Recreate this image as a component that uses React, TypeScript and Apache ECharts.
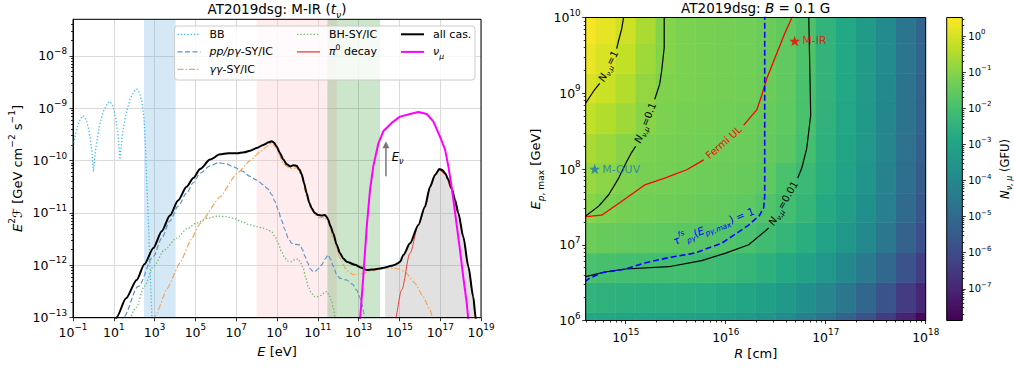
import React, { useEffect, useRef } from 'react';
import * as echarts from 'echarts';

const FONT = 'DejaVu Sans';

// ---------------- Left panel: AT2019dsg M-IR (t_nu) ----------------
// points: [log10(E / eV), log10(E^2 F / (GeV cm^-2 s^-1))]
const bbCurve = [
  [-1.0, -9.73], [-0.85, -9.45], [-0.7, -9.25], [-0.5, -9.14], [-0.35, -9.22], [-0.2, -9.45], [-0.08, -9.8], [0.0, -10.21],
  [0.12, -9.75], [0.3, -9.32], [0.5, -9.05], [0.7, -8.9], [0.81, -8.87], [0.95, -8.95], [1.1, -9.2], [1.22, -9.55], [1.3, -9.98],
  [1.42, -9.5], [1.6, -9.1], [1.8, -8.82], [2.0, -8.68], [2.12, -8.63], [2.25, -8.7], [2.38, -8.88], [2.48, -9.2], [2.55, -9.7],
  [2.61, -10.37], [2.68, -11.0], [2.74, -11.64], [2.8, -12.3], [2.86, -12.9], [2.9, -13.3],
];
const ppCurve = [
  [1.4, -13.1], [1.47, -12.99], [2.2, -12.4], [2.94, -11.83], [3.35, -11.48], [3.75, -11.15], [4.15, -10.87], [4.57, -10.62],
  [4.9, -10.42], [5.23, -10.24], [5.72, -10.1], [6.12, -10.04], [6.5, -10.06], [6.86, -10.12], [7.3, -10.2], [7.68, -10.3],
  [8.0, -10.37], [8.33, -10.46], [8.55, -10.54], [8.74, -10.65], [8.9, -10.78], [9.06, -10.94], [9.22, -11.14], [9.39, -11.32],
  [9.55, -11.48], [9.72, -11.58], [9.9, -11.6], [10.13, -11.61], [10.25, -11.7], [10.37, -11.83], [10.5, -11.95], [10.62, -12.06],
  [10.74, -12.11], [10.86, -12.12], [11.0, -12.07], [11.19, -11.99], [11.35, -11.88], [11.51, -11.8], [11.62, -11.88],
  [11.76, -12.02], [11.92, -12.17], [12.09, -12.25], [12.42, -12.28], [12.7, -12.36], [12.9, -12.47], [13.05, -12.6],
  [13.15, -12.72], [13.25, -12.9], [13.31, -13.04], [13.4, -13.25],
];
const ggCurve = [
  [2.95, -13.05], [3.1, -12.92], [3.6, -12.45], [4.25, -11.95], [4.8, -11.5], [5.23, -11.2], [6.21, -10.69],
  [7.02, -10.25], [7.68, -10.0], [8.17, -9.83], [8.5, -9.73], [8.74, -9.67], [8.98, -9.76], [9.31, -10.06], [9.64, -10.15],
  [9.96, -10.14], [10.21, -10.29], [10.45, -10.67], [10.7, -10.95], [11.02, -11.09], [11.35, -11.09], [11.51, -11.17],
  [11.76, -11.49], [12.09, -11.87], [12.42, -12.1], [12.74, -12.18], [13.15, -12.16], [13.72, -12.1], [14.37, -12.04],
  [14.86, -12.06], [15.27, -12.12], [15.76, -12.34], [16.17, -12.6], [16.5, -12.85], [16.66, -13.04], [16.75, -13.2],
];
const bhCurve = [
  [1.7, -13.15], [2.1, -12.8], [2.5, -12.4], [2.94, -12.02], [3.5, -11.7], [4.08, -11.48], [4.6, -11.3], [5.06, -11.19],
  [5.6, -11.1], [6.12, -11.06], [6.5, -11.07], [6.86, -11.1], [7.3, -11.17], [7.68, -11.23], [8.0, -11.26], [8.33, -11.29],
  [8.55, -11.32], [8.74, -11.36], [8.9, -11.45], [9.06, -11.58], [9.22, -11.74], [9.39, -11.86], [9.55, -11.92], [9.72, -11.93],
  [9.88, -11.89], [10.04, -11.88], [10.15, -11.95], [10.29, -12.06], [10.41, -12.24], [10.53, -12.41], [10.7, -12.54],
  [10.86, -12.6], [11.02, -12.6], [11.19, -12.57], [11.32, -12.52], [11.44, -12.5], [11.56, -12.57], [11.68, -12.69],
  [11.76, -12.82], [11.84, -12.98], [11.9, -13.2],
];
const pi0Curve = [
  [14.72, -13.2], [14.78, -13.04], [15.11, -12.47], [15.52, -11.77], [15.93, -11.23], [16.25, -10.9], [16.5, -10.52],
  [16.75, -10.29], [16.96, -10.18], [17.24, -10.26], [17.56, -10.55], [17.89, -11.02], [18.13, -11.47], [18.38, -12.04],
  [18.62, -12.62], [18.72, -13.0], [18.75, -13.2],
];
const allCasCurve = [
  [1.0, -13.2], [1.14, -12.99], [1.6, -12.63], [2.12, -12.28], [2.5, -11.98], [2.94, -11.67], [3.35, -11.35], [3.75, -11.05],
  [4.15, -10.76], [4.57, -10.5], [4.9, -10.33], [5.23, -10.16], [5.72, -9.98], [6.21, -9.88], [6.6, -9.86], [7.02, -9.86],
  [7.4, -9.84], [7.68, -9.81], [8.0, -9.76], [8.33, -9.7], [8.6, -9.65], [8.74, -9.63], [8.86, -9.66], [8.98, -9.73],
  [9.15, -9.86], [9.31, -9.98], [9.48, -10.07], [9.64, -10.11], [9.8, -10.09], [9.96, -10.1], [10.1, -10.17], [10.21, -10.26],
  [10.33, -10.43], [10.45, -10.62], [10.58, -10.8], [10.7, -10.91], [10.85, -11.0], [11.02, -11.04], [11.2, -11.05],
  [11.35, -11.04], [11.45, -11.08], [11.51, -11.13], [11.62, -11.25], [11.76, -11.39], [11.92, -11.6], [12.09, -11.77],
  [12.25, -11.87], [12.42, -11.93], [12.82, -11.99], [13.1, -12.04], [13.4, -12.09], [13.7, -12.08], [14.05, -12.06],
  [14.3, -12.04], [14.6, -12.01], [14.78, -11.99], [14.92, -11.96], [15.03, -11.93], [15.2, -11.8], [15.52, -11.58],
  [15.93, -11.23], [16.25, -10.88], [16.5, -10.5], [16.75, -10.27], [16.96, -10.16], [17.1, -10.18], [17.24, -10.24],
  [17.4, -10.36], [17.56, -10.53], [17.73, -10.75], [17.89, -11.0], [18.13, -11.45], [18.38, -12.02], [18.62, -12.6],
  [18.74, -13.0], [18.8, -13.2],
];
const numuCurve = [
  [13.05, -13.2], [13.07, -13.04], [13.23, -12.22], [13.4, -11.26], [13.56, -10.56], [13.72, -10.11], [13.97, -9.67],
  [14.21, -9.44], [14.62, -9.28], [15.03, -9.16], [15.52, -9.11], [15.93, -9.07], [16.34, -9.11], [16.66, -9.25],
  [16.99, -9.54], [17.24, -9.79], [17.4, -10.11], [17.56, -10.5], [17.73, -11.0], [17.97, -11.71], [18.13, -12.22],
  [18.3, -12.72], [18.38, -13.04], [18.4, -13.2],
];
// shaded energy bands [from, to] in log10(E/eV)
const blueBand = [2.48, 4.03];
const pinkBand = [8.0, 11.93];
const greenBand = [11.47, 14.05];
const grayFillStart = 14.3;
// E_nu arrow: log10 E, from, to (log10 E^2F)
const arrowE = 14.34;
const arrowFrom = -10.3;
const arrowTo = -9.63;
const LEFT_X_MIN = -1, LEFT_X_MAX = 19;
const LEFT_Y_MIN = -13, LEFT_Y_MAX = Math.log10(5e-8);

// ---------------- Right panel: B = 0.1 G parameter scan ----------------
const rEdges = [14.6, 14.7, 14.9, 15.1, 15.3, 15.5, 15.7, 15.9, 16.1, 16.3, 16.5, 16.7, 16.9, 17.1, 17.3, 17.5, 17.7, 17.9, 18.0];
const eEdges = [6.0, 6.105, 6.5, 6.89, 7.29, 7.68, 8.08, 8.47, 8.87, 9.26, 9.66, 10.0];
// log10 N_nu,mu per cell; rows from lowest E_p,max to highest
const logNGrid = [
  [-2.85, -2.9, -2.95, -3.0, -3.05, -3.1, -3.15, -3.25, -3.4, -3.6, -3.9, -4.25, -4.7, -5.2, -5.75, -6.4, -7.1, -7.7],
  [-2.45, -2.5, -2.55, -2.6, -2.6, -2.65, -2.7, -2.8, -2.95, -3.15, -3.4, -3.7, -4.1, -4.55, -5.1, -5.7, -6.4, -7.0],
  [-1.9, -1.95, -2.0, -2.02, -2.05, -2.05, -2.1, -2.2, -2.35, -2.55, -2.8, -3.1, -3.5, -3.95, -4.45, -5.05, -5.75, -6.35],
  [-1.35, -1.45, -1.5, -1.55, -1.6, -1.65, -1.7, -1.8, -1.9, -2.1, -2.35, -2.65, -3.05, -3.45, -3.95, -4.55, -5.25, -5.85],
  [-1.0, -1.15, -1.25, -1.3, -1.35, -1.4, -1.45, -1.5, -1.6, -1.8, -2.05, -2.35, -2.8, -3.2, -3.7, -4.3, -5.0, -5.6],
  [-0.8, -0.95, -1.1, -1.2, -1.25, -1.3, -1.35, -1.4, -1.45, -1.6, -1.9, -2.2, -2.65, -3.05, -3.55, -4.15, -4.85, -5.45],
  [-0.55, -0.75, -1.0, -1.15, -1.2, -1.25, -1.3, -1.35, -1.4, -1.5, -1.65, -2.0, -2.55, -2.95, -3.45, -4.05, -4.75, -5.35],
  [-0.25, -0.45, -0.7, -1.0, -1.15, -1.2, -1.25, -1.3, -1.35, -1.45, -1.6, -1.9, -2.5, -2.9, -3.4, -4.0, -4.7, -5.3],
  [0.05, -0.15, -0.45, -0.85, -1.1, -1.15, -1.2, -1.25, -1.3, -1.4, -1.55, -1.9, -2.45, -2.85, -3.35, -3.95, -4.65, -5.25],
  [0.3, 0.05, -0.25, -0.7, -1.05, -1.15, -1.2, -1.25, -1.3, -1.4, -1.55, -1.85, -2.45, -2.85, -3.3, -3.9, -4.6, -5.2],
  [0.45, 0.2, -0.1, -0.55, -1.05, -1.15, -1.2, -1.25, -1.3, -1.4, -1.55, -1.85, -2.45, -2.85, -3.3, -3.9, -4.6, -5.2],
];
// contours: [log10 R/cm, log10 E_p,max/GeV]; null = label gap
const contourN1 = [[14.985, 10.05], [14.96, 9.85], [14.93, 9.7], [14.91, 9.59], null, [14.74, 9.13], [14.68, 9.03], [14.6, 8.87]];
const contourN01 = [[15.385, 10.05], [15.385, 9.6], [15.36, 9.3], [15.34, 9.12], [15.29, 8.92], null,
  [15.1, 8.3], [15.06, 8.22], [15.01, 8.1], [14.93, 7.88], [14.83, 7.66], [14.73, 7.51], [14.6, 7.38]];
const contourN001 = [[16.83, 10.05], [16.84, 9.4], [16.85, 8.71], [16.81, 8.27], [16.76, 8.01], [16.72, 7.88], null,
  [16.43, 7.22], [16.23, 7.0], [16.0, 6.89], [15.76, 6.79], [15.43, 6.71], [15.0, 6.68], [14.79, 6.64], [14.6, 6.58]];
const fermiUL = [[14.6, 7.37], [14.76, 7.39], [15.0, 7.61], [15.19, 7.79], [15.39, 7.88], [15.61, 7.99], [15.78, 8.12], null,
  [16.18, 8.58], [16.31, 8.78], [16.36, 8.97], [16.41, 9.19], [16.49, 9.46], [16.59, 9.79], [16.68, 10.05]];
const tauOne = [[16.39, 10.05], [16.39, 7.64], [16.38, 7.49], [16.34, 7.39], [16.23, 7.26], [16.13, 7.17], [15.96, 7.02],
  [15.69, 6.89], [15.43, 6.83], [15.19, 6.76], [15.0, 6.68], [14.76, 6.63], [14.64, 6.56], [14.6, 6.52]];
const starNames = ['M-IR', 'M-OUV'];
const starR = [16.69, 14.69];
const starE = [9.69, 8.0];
const RIGHT_X_MIN = 14.6, RIGHT_X_MAX = 18, RIGHT_Y_MIN = 6, RIGHT_Y_MAX = 10;
const rightXTicks = [15, 16, 17, 18];
const CB_MIN = -7.88, CB_MAX = 0.52;
const cbTicks = [-7, -6, -5, -4, -3, -2, -1, 0];

const VIRIDIS = ['#440154', '#482475', '#414487', '#355f8d', '#2a788e', '#21918c', '#22a884', '#44bf70', '#7ad151', '#bddf26', '#fde725'];

// layout
const GL = { x: 73, y: 19.3, w: 408, h: 298.4 };
const GR = { x: 585.7, y: 17.5, w: 340, h: 303 };
const GC = { x: 946.7, y: 17.5, w: 15.6, h: 303 };

const C_BB = '#3cbef0', C_PP = '#5b95c8', C_GG = '#f9a45a', C_BH = '#6bbc6b', C_PI = '#ef3f35';

const mkRich = (size: number, color = '#000') => {
  const base: any = { fontSize: size, fontFamily: FONT, color, fill: color, lineHeight: Math.round(size * 1.5) };
  const sup: any = { fontSize: +(size * 0.7).toFixed(1), fontFamily: FONT, color, fill: color, lineHeight: Math.round(size * 0.58), verticalAlign: 'top' };
  const sub: any = { fontSize: +(size * 0.7).toFixed(1), fontFamily: FONT, color, fill: color, lineHeight: Math.round(size * 0.85), verticalAlign: 'bottom' };
  return {
    n: base, i: { ...base, fontStyle: 'italic' },
    sp: sup, isp: { ...sup, fontStyle: 'italic' },
    sb: sub, isb: { ...sub, fontStyle: 'italic' },
  };
};
const pow10 = (v: number) => {
  if (Math.abs(v - Math.round(v)) > 1e-6) return '';
  const n = Math.round(v);
  return '{n|10}{sp|' + (n < 0 ? '\u2212' + Math.abs(n) : String(n)) + '}';
};
const logMinor = (lo: number, hi: number) => {
  const out: number[] = [];
  for (let n = Math.floor(lo) - 1; n <= Math.ceil(hi); n++) for (let k = 2; k <= 9; k++) {
    const v = n + Math.log10(k);
    if (v > lo + 1e-6 && v < hi - 1e-6) out.push(v);
  }
  return out;
};
const splitSegs = (arr: any[]) => {
  const segs: number[][][] = [];
  let cur: number[][] = [];
  arr.forEach((p) => { if (p === null) { segs.push(cur); cur = []; } else cur.push(p); });
  segs.push(cur);
  return segs;
};

const tickStyle = { lineStyle: { color: '#000', width: 0.8 } };

function buildOption(): any {
  const lineS = (data: number[][], color: string, width: number, type: any, z: number, smooth: any) => ({
    type: 'line', xAxisIndex: 0, yAxisIndex: 0, data, symbol: 'none', showSymbol: false, smooth, smoothMonotone: 'x',
    clip: true, z, silent: true, lineStyle: { color, width, type }, emphasis: { disabled: true },
  });
  const series: any[] = [];
  series.push({
    type: 'line', xAxisIndex: 0, yAxisIndex: 0, data: allCasCurve.filter((p) => p[0] >= grayFillStart), symbol: 'none',
    smooth: 0.25, smoothMonotone: 'x', lineStyle: { width: 0, opacity: 0 }, z: 1, silent: true,
    areaStyle: { color: 'rgba(128,128,128,0.34)', origin: 'start' },
    markArea: {
      silent: true,
      data: [
        [{ xAxis: blueBand[0], itemStyle: { color: 'rgba(100,170,220,0.27)' } }, { xAxis: blueBand[1] }],
        [{ xAxis: pinkBand[0], itemStyle: { color: 'rgba(255,192,203,0.3)' } }, { xAxis: pinkBand[1] }],
        [{ xAxis: greenBand[0], itemStyle: { color: 'rgba(0,128,0,0.2)' } }, { xAxis: greenBand[1] }],
      ],
    },
  });
  series.push(lineS(bbCurve, C_BB, 1.3, [1.3, 2], 3, false));
  series.push(lineS(ppCurve, C_PP, 1.2, [5, 2.5], 3, 0.3));
  series.push(lineS(ggCurve, C_GG, 1.2, [6, 2, 1.5, 2], 3, 0.15));
  series.push(lineS(bhCurve, C_BH, 1.3, [1.3, 2], 3, 0.3));
  series.push(lineS(pi0Curve, C_PI, 1.0, 'solid', 3, 0.3));
  series.push(lineS(allCasCurve, '#000', 2, 'solid', 4, 0.25));
  series.push(lineS(numuCurve, '#ff00ff', 2, 'solid', 5, false));

  const heatData: number[][] = [];
  logNGrid.forEach((row, j) => row.forEach((v, i) => heatData.push([rEdges[i], rEdges[i + 1], eEdges[j], eEdges[j + 1], v])));
  const heatIndex = series.length;
  series.push({
    type: 'custom', xAxisIndex: 1, yAxisIndex: 2, data: heatData, encode: { x: [0, 1], y: [2, 3] }, z: 1, silent: true, clip: true,
    renderItem: (_p: any, api: any) => {
      const p0 = api.coord([api.value(0), api.value(2)]);
      const p1 = api.coord([api.value(1), api.value(3)]);
      const c = api.visual('color');
      return { type: 'rect', shape: { x: p0[0], y: p1[1], width: p1[0] - p0[0], height: p0[1] - p1[1] }, style: { fill: c, stroke: c, lineWidth: 0.6 } };
    },
  });
  const rLine = (arr: any[], color: string, width: number, type: any) =>
    splitSegs(arr).forEach((seg) => series.push({
      type: 'line', xAxisIndex: 1, yAxisIndex: 2, data: seg, symbol: 'none', showSymbol: false, smooth: false, clip: true, z: 3,
      silent: true, lineStyle: { color, width, type }, emphasis: { disabled: true },
    }));
  rLine(contourN1, '#000', 1.2, 'solid');
  rLine(contourN01, '#000', 1.2, 'solid');
  rLine(contourN001, '#000', 1.2, 'solid');
  rLine(fermiUL, '#ff0000', 1.3, 'solid');
  rLine(tauOne, '#0000ff', 1.6, [6, 3]);
  const starPath = 'path://M0,-10L2.35,-3.24L9.51,-3.09L3.8,1.24L5.88,8.09L0,4L-5.88,8.09L-3.8,1.24L-9.51,-3.09L-2.35,-3.24Z';
  const starColors = ['#ff0000', '#1f77b4'];
  series.push({
    type: 'scatter', xAxisIndex: 1, yAxisIndex: 2, z: 6, silent: true, symbol: starPath, symbolSize: 11, symbolKeepAspect: true,
    data: starNames.map((nm, k) => ({
      name: nm, value: [starR[k], starE[k]], itemStyle: { color: starColors[k] },
      label: { show: true, position: 'right', distance: 2, formatter: nm, color: starColors[k], fontSize: 11, fontFamily: FONT },
    })),
  });
  series.push({
    type: 'custom', xAxisIndex: 3, yAxisIndex: 4, data: [[0, 1, CB_MIN, CB_MAX]], encode: { x: [0, 1], y: [2, 3] }, silent: true,
    renderItem: (_p: any, api: any) => {
      const p0 = api.coord([api.value(0), api.value(2)]);
      const p1 = api.coord([api.value(1), api.value(3)]);
      return {
        type: 'rect', shape: { x: p0[0], y: p1[1], width: p1[0] - p0[0], height: p0[1] - p1[1] },
        style: { fill: new echarts.graphic.LinearGradient(0, 1, 0, 0, VIRIDIS.map((c, k) => ({ offset: k / (VIRIDIS.length - 1), color: c }))) },
      };
    },
  });

  const minorAxis = (gridIndex: number, min: number, max: number, vals: number[], position: string) => ({
    type: 'value', gridIndex, min, max, position, axisLine: { show: false, onZero: false }, axisLabel: { show: false }, splitLine: { show: false },
    axisTick: { show: true, customValues: vals, length: 2, ...tickStyle },
  });

  return {
    animation: false,
    backgroundColor: '#fff',
    textStyle: { fontFamily: FONT },
    grid: [
      { left: GL.x, top: GL.y, width: GL.w, height: GL.h, containLabel: false },
      { left: GR.x, top: GR.y, width: GR.w, height: GR.h, containLabel: false },
      { left: GC.x, top: GC.y, width: GC.w, height: GC.h, containLabel: false },
    ],
    visualMap: [{ type: 'continuous', show: false, seriesIndex: heatIndex, dimension: 4, min: CB_MIN, max: CB_MAX, inRange: { color: VIRIDIS } }],
    xAxis: [
      {
        type: 'value', gridIndex: 0, min: LEFT_X_MIN, max: LEFT_X_MAX, interval: 2,
        axisLine: { show: true, onZero: false, lineStyle: { color: '#000', width: 1 } },
        axisTick: { show: true, length: 3.5, ...tickStyle },
        axisLabel: { formatter: pow10, rich: mkRich(12.5), margin: 5 },
        splitLine: { show: true, lineStyle: { color: '#dadada', width: 1 } },
      },
      {
        type: 'value', gridIndex: 1, min: RIGHT_X_MIN, max: RIGHT_X_MAX,
        axisLine: { show: true, onZero: false, lineStyle: { color: '#000', width: 1 } },
        axisTick: { show: true, length: 3.5, customValues: rightXTicks, ...tickStyle },
        axisLabel: { customValues: rightXTicks, formatter: pow10, rich: mkRich(12.5), margin: 7 },
        splitLine: { show: false },
      },
      minorAxis(1, RIGHT_X_MIN, RIGHT_X_MAX, logMinor(RIGHT_X_MIN, RIGHT_X_MAX), 'bottom'),
      { type: 'value', gridIndex: 2, min: 0, max: 1, show: false },
    ],
    yAxis: [
      {
        type: 'value', gridIndex: 0, min: LEFT_Y_MIN, max: LEFT_Y_MAX, interval: 1,
        axisLine: { show: true, onZero: false, lineStyle: { color: '#000', width: 1 } },
        axisTick: { show: true, length: 3.5, ...tickStyle },
        axisLabel: { formatter: pow10, rich: mkRich(12.5), margin: 6, showMaxLabel: false },
        splitLine: { show: true, lineStyle: { color: '#dadada', width: 1 } },
      },
      minorAxis(0, LEFT_Y_MIN, LEFT_Y_MAX, logMinor(LEFT_Y_MIN, LEFT_Y_MAX), 'left'),
      {
        type: 'value', gridIndex: 1, min: RIGHT_Y_MIN, max: RIGHT_Y_MAX, interval: 1,
        axisLine: { show: true, onZero: false, lineStyle: { color: '#000', width: 1 } },
        axisTick: { show: true, length: 3.5, ...tickStyle },
        axisLabel: { formatter: pow10, rich: mkRich(12.5), margin: 5 },
        splitLine: { show: false },
      },
      minorAxis(1, RIGHT_Y_MIN, RIGHT_Y_MAX, logMinor(RIGHT_Y_MIN, RIGHT_Y_MAX), 'left'),
      {
        type: 'value', gridIndex: 2, min: CB_MIN, max: CB_MAX, position: 'right',
        axisLine: { show: false, onZero: false },
        axisTick: { show: true, length: 3.5, customValues: cbTicks, ...tickStyle },
        axisLabel: { customValues: cbTicks, formatter: pow10, rich: mkRich(10), margin: 6 },
        splitLine: { show: false },
      },
      minorAxis(2, CB_MIN, CB_MAX, logMinor(CB_MIN, CB_MAX), 'right'),
    ],
    series,
  };
}

function buildGraphics(chart: any): any[] {
  const L = (p: number[]) => chart.convertToPixel({ xAxisIndex: 0, yAxisIndex: 0 }, p);
  const R = (p: number[]) => chart.convertToPixel({ xAxisIndex: 1, yAxisIndex: 2 }, p);
  const g: any[] = [];
  const txt = (x: number, y: number, t: string, size: number, o: any = {}) => ({
    type: 'text', x, y, z: 100, rotation: o.rot || 0, silent: true,
    style: {
      text: t, rich: mkRich(size, o.color || '#000'), align: o.align || 'center', verticalAlign: o.va || 'middle',
      fontFamily: FONT, fontSize: size, fill: o.color || '#000',
    },
  });
  const border = (b: any) => ({ type: 'rect', z: 100, silent: true, shape: { x: b.x, y: b.y, width: b.w, height: b.h }, style: { fill: 'none', stroke: '#000', lineWidth: 1 } });

  // titles and axis names
  g.push(txt(GL.x + GL.w / 2, 9, '{n|AT2019dsg: M-IR (}{i|t}{isb|\u03bd}{n|)}', 13.5));
  g.push(txt(GR.x + GR.w / 2, 8, '{n|AT2019dsg: }{i|B}{n| = 0.1 G}', 13.5));
  g.push(txt(GL.x + GL.w / 2, 351, '{i|E}{n| [eV]}', 13));
  g.push(txt(GR.x + GR.w / 2, 353, '{i|R}{n| [cm]}', 13));
  g.push(txt(17, GL.y + GL.h / 2, '{i|E}{sp|2}{i|\u2131}{n| [GeV cm}{sp|\u22122}{n| s}{sp|\u22121}{n|]}', 13, { rot: Math.PI / 2 }));
  g.push(txt(535, GR.y + GR.h / 2, '{i|E}{isb|p}{sb|, max}{n| [GeV]}', 13, { rot: Math.PI / 2 }));
  g.push(txt(1005, GC.y + GC.h / 2, '{i|N}{isb|\u03bd, \u03bc}{n| (GFU)}', 11.5, { rot: Math.PI / 2 }));

  // legend
  g.push({ type: 'rect', z: 99, silent: true, shape: { x: 174.5, y: 26, width: 300.5, height: 54, r: 3 }, style: { fill: 'rgba(255,255,255,0.8)', stroke: '#cccccc', lineWidth: 1 } });
  const colX = [177.5, 297, 401];
  const rowY = [34.3, 51.9, 69.4];
  const items = [
    { c: 0, r: 0, t: '{n|BB}', color: C_BB, dash: [1.3, 2], w: 1.3 },
    { c: 0, r: 1, t: '{i|pp/p\u03b3}{n|-SY/IC}', color: C_PP, dash: [5, 2.5], w: 1.3 },
    { c: 0, r: 2, t: '{i|\u03b3\u03b3}{n|-SY/IC}', color: C_GG, dash: [6, 2, 1.5, 2], w: 1.3 },
    { c: 1, r: 0, t: '{n|BH-SY/IC}', color: C_BH, dash: [1.3, 2], w: 1.3 },
    { c: 1, r: 1, t: '{i|\u03c0}{sp|0}{n| decay}', color: C_PI, dash: null, w: 1.3 },
    { c: 2, r: 0, t: '{n|all cas.}', color: '#000', dash: null, w: 2 },
    { c: 2, r: 1, t: '{i|\u03bd}{isb|\u03bc}', color: '#ff00ff', dash: null, w: 2 },
  ];
  items.forEach((it) => {
    const x = colX[it.c], y = rowY[it.r];
    g.push({ type: 'line', z: 101, silent: true, shape: { x1: x, y1: y, x2: x + 23, y2: y }, style: { stroke: it.color, lineWidth: it.w, lineDash: it.dash || undefined } });
    g.push(txt(x + 32, y, it.t, 11, { align: 'left' }));
  });

  // E_nu arrow
  const a0 = L([arrowE, arrowFrom]);
  const a1 = L([arrowE, arrowTo]);
  g.push({ type: 'line', z: 90, silent: true, shape: { x1: a0[0], y1: a0[1], x2: a1[0], y2: a1[1] + 5 }, style: { stroke: '#777777', lineWidth: 1.5 } });
  g.push({ type: 'polygon', z: 90, silent: true, shape: { points: [[a1[0] - 3.5, a1[1] + 7], [a1[0] + 3.5, a1[1] + 7], [a1[0], a1[1]]] }, style: { fill: '#777777' } });
  const ep = L([14.62, -9.93]);
  g.push(txt(ep[0], ep[1], '{i|E}{isb|\u03bd}', 11.5, { align: 'left' }));

  // contour labels in gaps
  const clabels = [
    { t: '{i|N}{isb|\u03bd,\u03bc}{n|=1}', a: [14.91, 9.59], b: [14.74, 9.13], color: '#000' },
    { t: '{i|N}{isb|\u03bd,\u03bc}{n|=0.1}', a: [15.29, 8.92], b: [15.1, 8.3], color: '#000' },
    { t: '{i|N}{isb|\u03bd,\u03bc}{n|=0.01}', a: [16.72, 7.88], b: [16.43, 7.22], color: '#000' },
    { t: '{n|Fermi UL}', a: [15.78, 8.12], b: [16.18, 8.58], color: '#ff0000' },
  ];
  clabels.forEach((cl) => {
    const pa = R(cl.a), pb = R(cl.b);
    let ang = Math.atan2(-(pb[1] - pa[1]), pb[0] - pa[0]);
    if (ang > Math.PI / 2) ang -= Math.PI;
    if (ang < -Math.PI / 2) ang += Math.PI;
    g.push(txt((pa[0] + pb[0]) / 2, (pa[1] + pb[1]) / 2, cl.t, 10, { rot: ang, color: cl.color }));
  });
  const tp = R([15.88, 7.25]);
  g.push(txt(tp[0], tp[1], '{i|\u03c4}{isp|fs}{isb|p\u03b3}{n|(}{i|E}{isb|p\u03b3,max}{n|) = 1}', 10.5, { rot: (21 * Math.PI) / 180, color: '#0000ff' }));

  g.push(border(GL), border(GR), border(GC));
  return g;
}

export default function App() {
  const ref = useRef<HTMLDivElement>(null);
  useEffect(() => {
    const el = ref.current as HTMLDivElement;
    const chart = echarts.init(el, null, { renderer: 'svg' });
    chart.setOption(buildOption());
    chart.setOption({ graphic: buildGraphics(chart) });
    return () => chart.dispose();
  }, []);
  return <div ref={ref} style={{ position: 'absolute', left: 0, top: 0, width: 1014, height: 370 }} />;
}
